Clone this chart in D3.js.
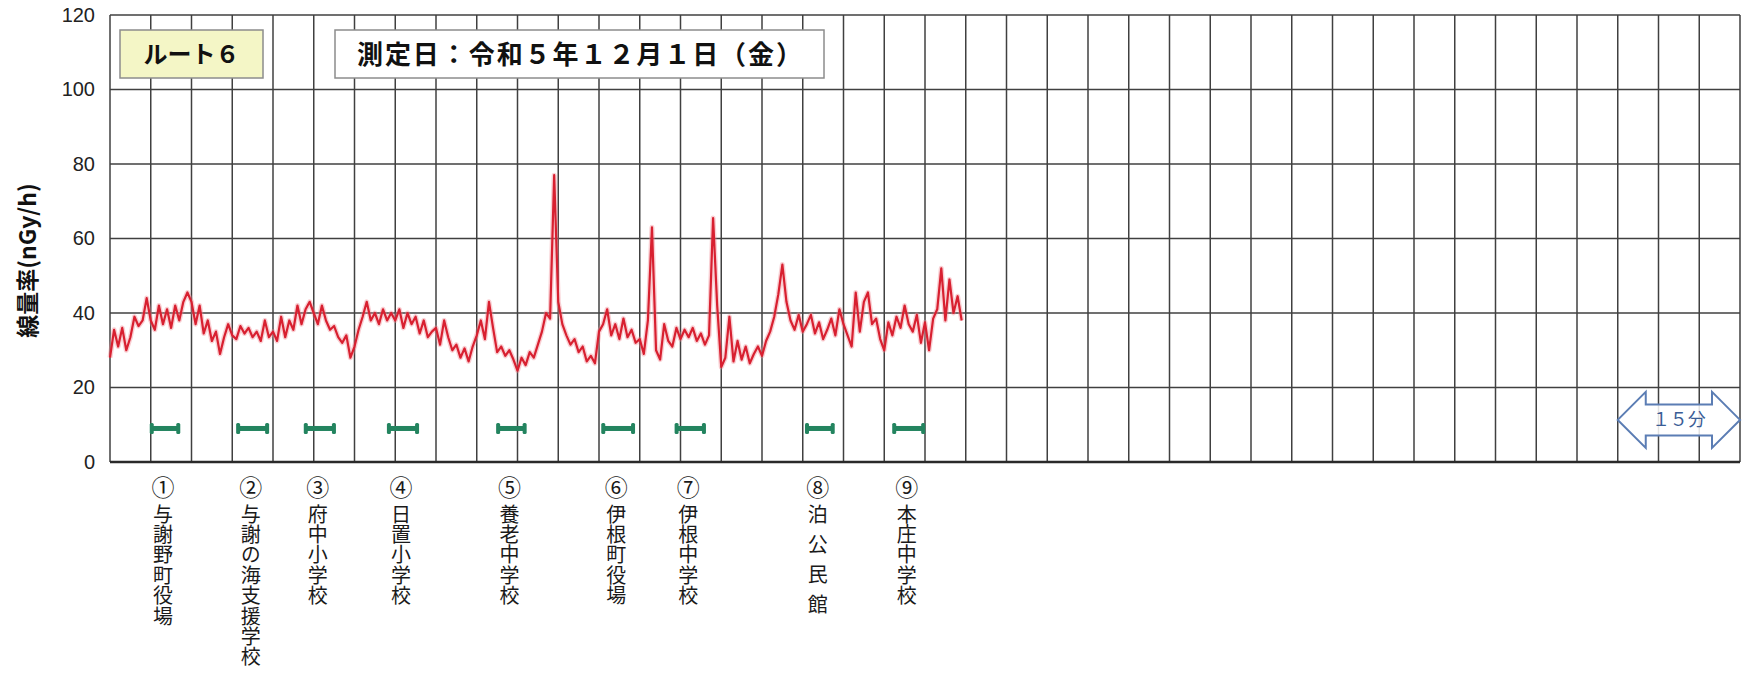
<!DOCTYPE html>
<html><head><meta charset="utf-8">
<script src="https://cdn.jsdelivr.net/npm/d3@7/dist/d3.min.js"></script>
<style>html,body{margin:0;padding:0;background:#fff;} svg{display:block}</style>
</head><body>
<svg id="chart" width="1746" height="676"></svg>
<script>
// ---- data ----
const sampleStepMin = 0.5;           // one reading every half minute
const doseRate = [
  28, 35.5, 31, 36, 30, 33.5, 39, 36.5, 38, 44,
  38, 35.5, 42, 37, 41, 36, 42, 38, 43, 45.5,
  43, 37, 42, 34.5, 38, 32.5, 35, 29, 33.5, 37,
  34, 33, 36.5, 34.5, 36, 33.5, 35, 32.5, 38, 33.5,
  35, 32.5, 39, 33.5, 38, 35.5, 42, 37, 41, 43,
  40, 37, 42, 38, 35.5, 36.5, 33.5, 32, 34, 28,
  31, 35.5, 39, 43, 38, 40, 37, 41, 38, 40,
  38, 41, 36, 40, 37, 39, 34.5, 38, 33.5, 35,
  36, 31.5, 38, 33.5, 30, 31.5, 28, 30.5, 27, 31,
  34, 38, 33, 43, 36, 29.5, 31, 28.5, 30, 27.5,
  24.5, 28, 26, 29.5, 28, 31.5, 35, 40, 38.5, 77,
  43, 37, 34, 31.5, 33, 29.5, 31, 27, 28.5, 26.5,
  35, 37, 41, 34, 37, 33, 38.5, 33.5, 35.5, 32,
  33, 29, 38, 63, 30, 27.5, 37, 32.5, 31, 36,
  33, 35.5, 33.5, 36, 32.5, 34.5, 31.5, 34, 65.5, 42,
  25.5, 28, 39, 27, 32.5, 27.5, 31, 26.5, 29, 31,
  28.5, 32.5, 35, 39, 45, 53, 43, 38, 35.5, 39.5,
  35, 37, 39.5, 34.5, 37.5, 33, 35.5, 38.5, 34, 41,
  37, 34, 31, 45.5, 35, 43, 45.5, 37, 38.5, 33,
  30, 37.5, 34, 39, 36, 42, 37, 35, 39.5, 32,
  37.5, 30, 38.5, 41, 52, 38, 49, 40, 44.5, 38
];
const yTicks = [0, 20, 40, 60, 80, 100, 120];
const xDomainMin = [0, 200];
const gridStepMin = 5;
const siteNumbers = ["①","②","③","④","⑤","⑥","⑦","⑧","⑨"];
const siteNames = ["与謝野町役場","与謝の海支援学校","府中小学校","日置小学校","養老中学校","伊根町役場","伊根中学校","泊 公 民 館","本庄中学校"];
const stopStart = [5.0, 15.6, 23.9, 34.1, 47.5, 60.4, 69.4, 85.4, 96.1];
const stopEnd   = [8.5, 19.4, 27.6, 37.8, 51.0, 64.3, 73.0, 88.8, 99.9];
const stopLevel = 9;
const routeLabel = "ルート６";
const dateLabel = "測定日：令和５年１２月１日（金）";
const yAxisTitle = "線量率(nGy/h)";
const scaleNote = "１５分";
const scaleNoteRange = [185, 200];
const scaleNoteLevel = 11.3;

// ---- layout ----
const W = 1746, H = 676;
const m = {left: 110, right: 6, top: 15, bottom: 214};
const svg = d3.select("#chart");
const x = d3.scaleLinear().domain(xDomainMin).range([m.left, W - m.right]);
const y = d3.scaleLinear().domain([0, 120]).range([H - m.bottom, m.top]);

const cjk = "'Noto Sans CJK JP','Noto Sans',sans-serif";

// grid
const gridX = d3.range(xDomainMin[0], xDomainMin[1] + 0.001, gridStepMin);
svg.append("g").selectAll("line").data(gridX).join("line")
  .attr("x1", d => x(d)).attr("x2", d => x(d))
  .attr("y1", y(120)).attr("y2", y(0))
  .attr("stroke", "#404040").attr("stroke-width", 1.5);
svg.append("g").selectAll("line").data(yTicks).join("line")
  .attr("x1", x(0)).attr("x2", x(200))
  .attr("y1", d => y(d)).attr("y2", d => y(d))
  .attr("stroke", d => d === 0 ? "#2a2a2a" : "#404040")
  .attr("stroke-width", d => d === 0 ? 2.6 : 1.5);

// y axis labels
const yAxis = d3.axisLeft(y).tickValues(yTicks).tickSize(0).tickPadding(15);
const gy = svg.append("g").attr("transform", `translate(${m.left},0)`).call(yAxis);
gy.select(".domain").remove();
gy.selectAll("text").attr("font-family", "'Liberation Sans',Arial,sans-serif")
  .attr("font-size", 20).attr("fill", "#222");

svg.append("text")
  .attr("transform", `translate(36,${(y(0) + y(120)) / 2 + 22}) rotate(-90)`)
  .attr("text-anchor", "middle")
  .attr("font-family", cjk).attr("font-weight", 700).attr("font-size", 23)
  .attr("fill", "#111").text(yAxisTitle);

// title boxes
svg.append("rect").attr("x", m.left + 10).attr("y", 30).attr("width", 143).attr("height", 48)
  .attr("fill", "#f4f6c6").attr("stroke", "#8c8c8c").attr("stroke-width", 1.5);
svg.append("text").attr("x", m.left + 10 + 71.5).attr("y", 63).attr("text-anchor", "middle")
  .attr("font-family", cjk).attr("font-weight", 700).attr("font-size", 24).attr("fill", "#111")
  .text(routeLabel);
svg.append("rect").attr("x", 335).attr("y", 30).attr("width", 489).attr("height", 48)
  .attr("fill", "#fff").attr("stroke", "#8c8c8c").attr("stroke-width", 1.5);
svg.append("text").attr("x", 357).attr("y", 64)
  .attr("font-family", cjk).attr("font-weight", 700).attr("font-size", 26).attr("fill", "#111")
  .attr("textLength", 445).attr("lengthAdjust", "spacing")
  .text(dateLabel);

// dose-rate line
const line = d3.line().x((d, i) => x(i * sampleStepMin)).y(d => y(d));
svg.append("path").datum(doseRate).attr("d", line)
  .attr("fill", "none").attr("stroke", "#f08890").attr("stroke-width", 5).attr("stroke-opacity", 0.4)
  .attr("stroke-linejoin", "round");
svg.append("path").datum(doseRate).attr("d", line)
  .attr("fill", "none").attr("stroke", "#d82030").attr("stroke-width", 2.2)
  .attr("stroke-linejoin", "round");

// stop markers
const stops = siteNames.map((n, i) => ({n, num: siteNumbers[i], s: stopStart[i], e: stopEnd[i]}));
const mk = svg.append("g").attr("fill", "#23845f");
stops.forEach(d => {
  const yc = y(stopLevel);
  mk.append("rect").attr("x", x(d.s)).attr("y", yc - 2.5).attr("width", x(d.e) - x(d.s)).attr("height", 5);
  mk.append("rect").attr("x", x(d.s) - 1).attr("y", yc - 5.5).attr("width", 4).attr("height", 11).attr("rx", 1.5);
  mk.append("rect").attr("x", x(d.e) - 3).attr("y", yc - 5.5).attr("width", 4).attr("height", 11).attr("rx", 1.5);
});

// site labels: one vertical-mode text per character (stacked downward)
const lab = svg.append("g").attr("font-family", cjk).attr("fill", "#1a1a1a")
  .style("writing-mode", "vertical-rl").style("text-orientation", "upright");
stops.forEach(d => {
  const cx = (x(d.s) + x(d.e)) / 2 - 2;
  lab.append("text").attr("x", cx).attr("y", y(0) + 14).attr("font-size", 23).text(d.num);
  let yy = y(0) + 42;
  for (const ch of d.n) {
    if (ch === " ") { yy += 9.6; continue; }
    lab.append("text").attr("x", cx).attr("y", yy).attr("font-size", 20).text(ch);
    yy += 20.4;
  }
});

// 15-minute arrow
const ax0 = x(scaleNoteRange[0]), ax1 = x(scaleNoteRange[1]), ayc = y(scaleNoteLevel);
const hh = 28, sh = 15.5, hl = 28;
const pts = [[ax0, ayc], [ax0 + hl, ayc - hh], [ax0 + hl, ayc - sh], [ax1 - hl, ayc - sh], [ax1 - hl, ayc - hh],
  [ax1, ayc], [ax1 - hl, ayc + hh], [ax1 - hl, ayc + sh], [ax0 + hl, ayc + sh], [ax0 + hl, ayc + hh]];
svg.append("polygon").attr("points", pts.map(p => p.join(",")).join(" "))
  .attr("fill", "rgba(255,255,255,0.85)").attr("stroke", "#5b7db4").attr("stroke-width", 2);
svg.append("text").attr("x", (ax0 + ax1) / 2).attr("y", ayc + 6.5).attr("text-anchor", "middle")
  .attr("font-family", cjk).attr("font-size", 18).attr("fill", "#3a5d96").text(scaleNote);
</script>
</body></html>
